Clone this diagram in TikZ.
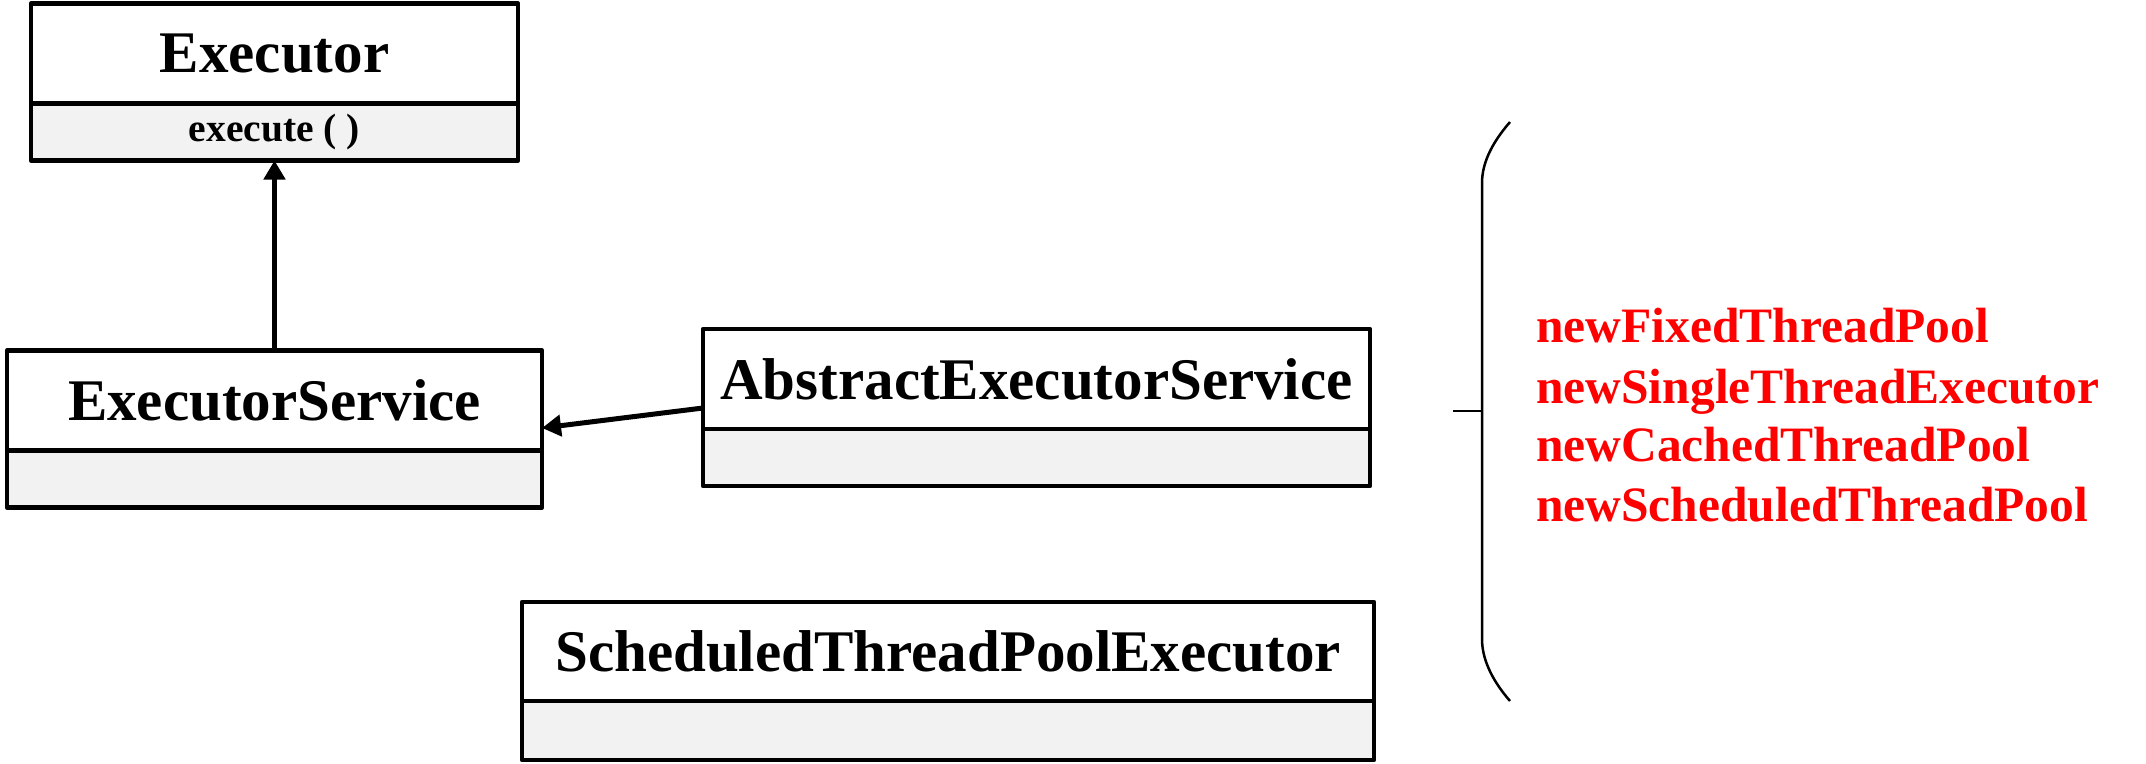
\documentclass[tikz,border=0pt]{standalone}
\usepackage{fontspec}
\setmainfont{Liberation Serif}
\usetikzlibrary{arrows.meta,positioning}

\begin{document}
\begin{tikzpicture}[x=1pt,y=-1pt,>={Triangle[width=21pt,length=19pt]},font=\bfseries,
  title/.style={draw,line width=4.5pt,line join=round,fill=white,inner sep=0pt,outer sep=0pt,minimum height=100pt,font=\bfseries\fontsize{59}{60}\selectfont},
  ops/.style={draw,line width=4.5pt,line join=round,fill=gray!10,inner sep=0pt,outer sep=0pt,minimum height=57pt,font=\bfseries\fontsize{39.5}{40}\selectfont},
  factory/.style={anchor=base west,text=red,inner sep=0pt,font=\bfseries\fontsize{49.5}{50}\selectfont}]
\useasboundingbox (0,0) rectangle (2146,763);
% classes
\node[title,minimum width=487pt] (exec) at (274.5,53.5){Executor};
\node[ops,minimum width=487pt,below=0pt of exec] (execops){execute ( )};
\node[title,minimum width=535pt] (es) at (274.5,400.5){ExecutorService};
\node[ops,minimum width=535pt,below=0pt of es] (esops){};
\node[title,minimum width=667pt] (aes) at (1036.5,379){AbstractExecutorService};
\node[ops,minimum width=667pt,below=0pt of aes] (aesops){};
\node[title,minimum width=852pt,minimum height=99pt] (stpe) at (948,651.5){ScheduledThreadPoolExecutor};
\node[ops,minimum width=852pt,minimum height=59pt,below=0pt of stpe] (stpeops){};
% arrows
\draw[->,line width=5pt] (es) -- (execops);
\draw[->,line width=5pt] ([yshift=-29pt]aes.west) -- ([yshift=-27.5pt]es.east);
% brace and factory methods
\coordinate (hook) at (1482,411);
\draw[line width=2.5pt] (1510,122) .. controls (1490,145) and (1482,165) .. (1482,183) -- (1482,639) .. controls (1482,657) and (1490,678) .. (1510,701);
\draw[line width=2.5pt] (1453,411) -- (hook);
\node[factory] (fixed) at (1536,342){newFixedThreadPool};
\node[factory] (single) at (1536,403){newSingleThreadExecutor};
\node[factory] (cached) at (1536,461){newCachedThreadPool};
\node[factory] (sched) at (1536,521){newScheduledThreadPool};
\end{tikzpicture}
\end{document}
